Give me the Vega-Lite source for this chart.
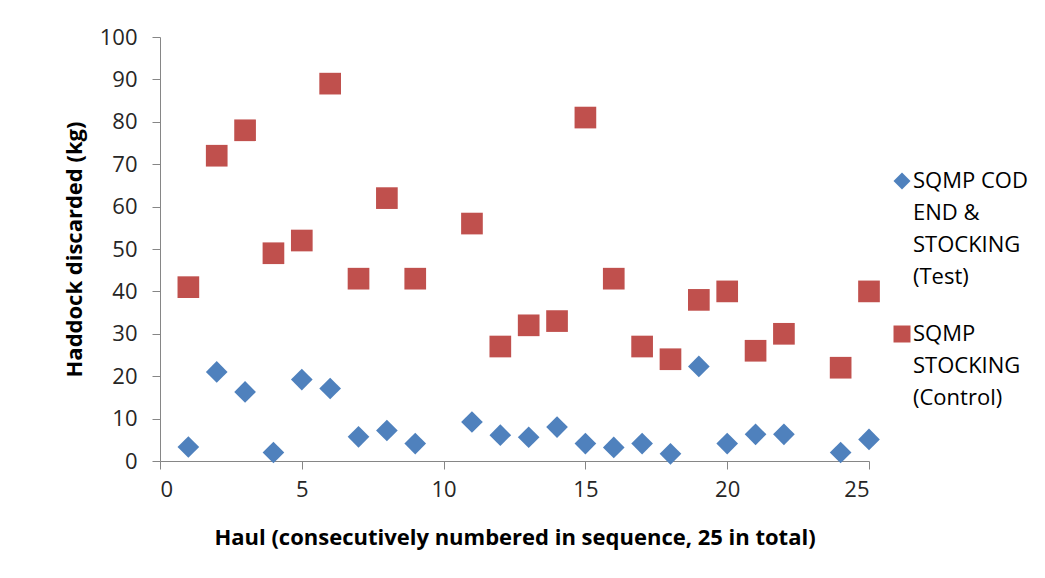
{
  "$schema": "https://vega.github.io/schema/vega-lite/v6.json",
  "width": 709,
  "height": 424,
  "autosize": {"type": "none"},
  "padding": {"left": 160, "top": 37, "right": 176, "bottom": 117},
  "background": "white",
  "config": {
    "view": {"stroke": null},
    "font": "Open Sans",
    "style": {"guide-label": {"lineHeight": 32}}
  },
  "data": {
    "values": [
      {"haul": 1, "series": "Test", "kg": 3.3},
      {"haul": 2, "series": "Test", "kg": 21},
      {"haul": 3, "series": "Test", "kg": 16.3},
      {"haul": 4, "series": "Test", "kg": 2},
      {"haul": 5, "series": "Test", "kg": 19.2},
      {"haul": 6, "series": "Test", "kg": 17.1},
      {"haul": 7, "series": "Test", "kg": 5.7},
      {"haul": 8, "series": "Test", "kg": 7.2},
      {"haul": 9, "series": "Test", "kg": 4.1},
      {"haul": 11, "series": "Test", "kg": 9.2},
      {"haul": 12, "series": "Test", "kg": 6.1},
      {"haul": 13, "series": "Test", "kg": 5.6},
      {"haul": 14, "series": "Test", "kg": 8},
      {"haul": 15, "series": "Test", "kg": 4.1},
      {"haul": 16, "series": "Test", "kg": 3.2},
      {"haul": 17, "series": "Test", "kg": 4.1},
      {"haul": 18, "series": "Test", "kg": 1.7},
      {"haul": 19, "series": "Test", "kg": 22.3},
      {"haul": 20, "series": "Test", "kg": 4.1},
      {"haul": 21, "series": "Test", "kg": 6.3},
      {"haul": 22, "series": "Test", "kg": 6.3},
      {"haul": 24, "series": "Test", "kg": 2},
      {"haul": 25, "series": "Test", "kg": 5.1},
      {"haul": 1, "series": "Control", "kg": 41},
      {"haul": 2, "series": "Control", "kg": 72},
      {"haul": 3, "series": "Control", "kg": 78},
      {"haul": 4, "series": "Control", "kg": 49},
      {"haul": 5, "series": "Control", "kg": 52},
      {"haul": 6, "series": "Control", "kg": 89},
      {"haul": 7, "series": "Control", "kg": 43},
      {"haul": 8, "series": "Control", "kg": 62},
      {"haul": 9, "series": "Control", "kg": 43},
      {"haul": 11, "series": "Control", "kg": 56},
      {"haul": 12, "series": "Control", "kg": 27},
      {"haul": 13, "series": "Control", "kg": 32},
      {"haul": 14, "series": "Control", "kg": 33},
      {"haul": 15, "series": "Control", "kg": 81},
      {"haul": 16, "series": "Control", "kg": 43},
      {"haul": 17, "series": "Control", "kg": 27},
      {"haul": 18, "series": "Control", "kg": 24},
      {"haul": 19, "series": "Control", "kg": 38},
      {"haul": 20, "series": "Control", "kg": 40},
      {"haul": 21, "series": "Control", "kg": 26},
      {"haul": 22, "series": "Control", "kg": 30},
      {"haul": 24, "series": "Control", "kg": 22},
      {"haul": 25, "series": "Control", "kg": 40}
    ]
  },
  "mark": {"type": "point", "filled": true, "opacity": 1, "size": 470},
  "encoding": {
    "x": {
      "field": "haul",
      "type": "quantitative",
      "scale": {"domain": [0, 25], "nice": false, "zero": false},
      "axis": {
        "title": "Haul (consecutively numbered in sequence, 25 in total)",
        "values": [0, 5, 10, 15, 20, 25],
        "grid": false,
        "domainColor": "#868686",
        "tickColor": "#868686",
        "tickSize": 8,
        "labelFontSize": 22,
        "labelColor": "#262626",
        "labelPadding": 10,
        "labelFont": "Open Sans",
        "titleFont": "Open Sans",
        "titleFontSize": 22,
        "titleFontWeight": "bold",
        "titleColor": "#000000",
        "titleBaseline": "middle",
        "titleY": 76
      }
    },
    "y": {
      "field": "kg",
      "type": "quantitative",
      "scale": {"domain": [0, 100], "nice": false},
      "axis": {
        "title": "Haddock discarded (kg)",
        "values": [0, 10, 20, 30, 40, 50, 60, 70, 80, 90, 100],
        "grid": false,
        "domainColor": "#868686",
        "tickColor": "#868686",
        "tickSize": 8,
        "labelFontSize": 22,
        "labelColor": "#262626",
        "labelPadding": 15,
        "labelFont": "Open Sans",
        "titleFont": "Open Sans",
        "titleFontSize": 22,
        "titleFontWeight": "bold",
        "titleColor": "#000000",
        "titleBaseline": "middle",
        "titleX": -86
      }
    },
    "color": {
      "field": "series",
      "type": "nominal",
      "scale": {"domain": ["Test", "Control"], "range": ["#4F81BD", "#C0504D"]},
      "legend": {
        "title": null,
        "orient": "none",
        "legendX": 731,
        "legendY": 133,
        "padding": 0,
        "symbolSize": 289,
        "symbolStrokeWidth": 0,
        "labelFontSize": 22,
        "labelFont": "Open Sans",
        "labelColor": "#000000",
        "labelOffset": 0,
        "labelLimit": 300,
        "rowPadding": 35,
        "labelExpr": "datum.label == 'Test' ? ['SQMP COD', 'END &', 'STOCKING', '(Test)'] : ['SQMP', 'STOCKING', '(Control)']"
      }
    },
    "shape": {
      "field": "series",
      "type": "nominal",
      "scale": {"domain": ["Test", "Control"], "range": ["diamond", "square"]},
      "legend": null
    }
  }
}
